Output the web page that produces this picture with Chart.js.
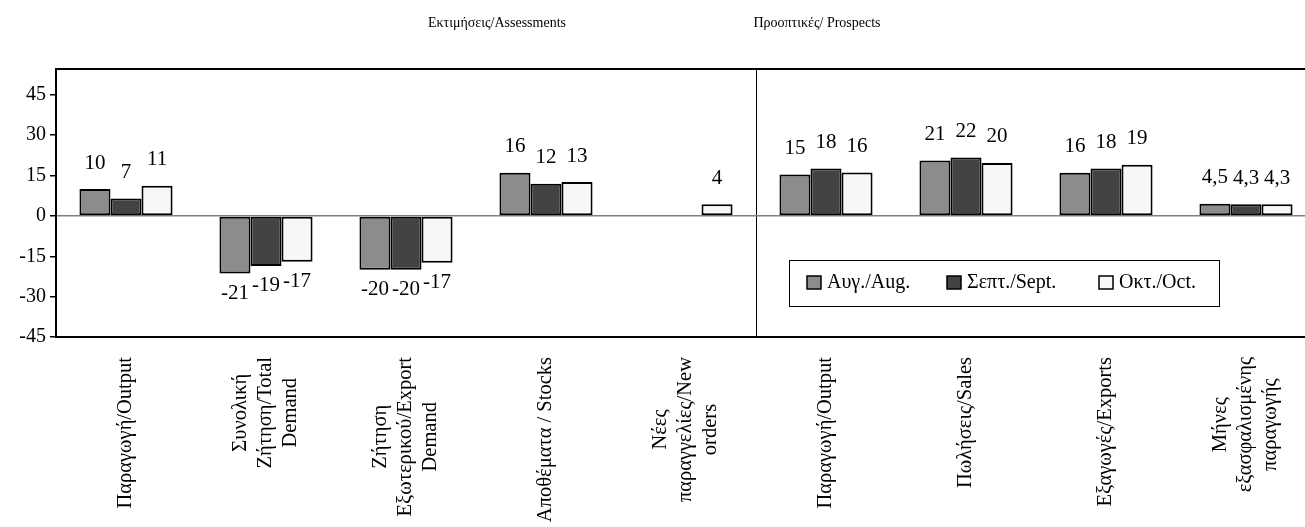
<!DOCTYPE html>
<html><head><meta charset="utf-8">
<script src="https://cdn.jsdelivr.net/npm/chart.js@4"></script>
<style>
html,body{margin:0;padding:0;background:#fff;overflow:hidden;width:1305px;height:527px;}
#wrap{position:relative;width:1305px;height:527px;overflow:hidden;background:#fff;}
canvas{position:absolute;left:0;top:0;}
.hdr{position:absolute;top:15px;transform:translateX(-50%);font-family:'Liberation Serif','Times New Roman',serif;font-size:14px;color:#000;white-space:nowrap;}
</style></head><body>
<div id="wrap">
<canvas id="c" width="1320" height="527" style="width:1320px;height:527px"></canvas>
<div class="hdr" id="h0" style="left:497px"></div>
<div class="hdr" id="h1" style="left:817px"></div>
</div>
<script>
const categories = [
  ['Παραγωγή/Output'],
  ['Συνολική','Ζήτηση/Total','Demand'],
  ['Ζήτηση','Εξωτερικού/Export','Demand'],
  ['Αποθέματα / Stocks'],
  ['Νέες','παραγγελίες/New','orders'],
  ['Παραγωγή/Output'],
  ['Πωλήσεις/Sales'],
  ['Εξαγωγές/Exports'],
  ['Μήνες','εξασφαλισμένης','παραγωγής']
];
const seriesNames = ['Αυγ./Aug.','Σεπτ./Sept.','Οκτ./Oct.'];
const augValues = [10, -21.4, -20, 16, null, 15.4, 20.6, 16, 4.5];
const sepValues = [6.5, -18.6, -20, 12, null, 17.6, 21.7, 17.6, 4.3];
const octValues = [11.2, -17, -17.4, 12.6, 4.3, 16.1, 19.7, 19, 4.3];
const labelDecimals = [0, 0, 0, 0, 0, 0, 0, 0, 1];
const yTicks = [-45, -30, -15, 0, 15, 30, 45];
const sectionTitles = ['Εκτιμήσεις/Assessments', 'Προοπτικές/ Prospects'];

document.getElementById('h0').textContent = sectionTitles[0];
document.getElementById('h1').textContent = sectionTitles[1];

const FONT = "'Liberation Serif', 'Times New Roman', serif";
Chart.defaults.font.family = FONT;
Chart.defaults.color = '#000';

const fills = ['#8c8c8c', '#434343', '#f7f7f7'];

function fmt(v, d) {
  return (d > 0 ? v.toFixed(d) : String(Math.round(v))).replace('.', ',');
}

const frame = {
  id: 'frame',
  afterDatasetsDraw(chart) {
    const {ctx, chartArea: a} = chart;
    ctx.save();
    ctx.strokeStyle = '#000';
    ctx.lineWidth = 2;
    ctx.strokeRect(a.left, a.top, a.right - a.left, a.bottom - a.top);
    ctx.restore();
  }
};

const valueLabels = {
  id: 'valueLabels',
  afterDatasetsDraw(chart) {
    const ctx = chart.ctx;
    ctx.save();
    ctx.font = '21px ' + FONT;
    ctx.fillStyle = '#000';
    ctx.textAlign = 'center';
    ctx.textBaseline = 'middle';
    chart.data.datasets.forEach((ds, di) => {
      const meta = chart.getDatasetMeta(di);
      meta.data.forEach((bar, i) => {
        const v = ds.data[i];
        if (v === null || v === undefined) return;
        const txt = fmt(v, labelDecimals[i]);
        const y = v >= 0 ? bar.y - 26 : bar.y + 20;
        ctx.fillText(txt, bar.x, y);
      });
    });
    ctx.restore();
  }
};

const catLabels = {
  id: 'catLabels',
  afterDraw(chart) {
    const ctx = chart.ctx;
    const xs = chart.scales.x;
    const top = chart.chartArea.bottom + 20;
    const lh = 25;
    ctx.save();
    ctx.font = '20.5px ' + FONT;
    ctx.fillStyle = '#000';
    ctx.textAlign = 'center';
    ctx.textBaseline = 'middle';
    categories.forEach((lines, i) => {
      const x = xs.getPixelForValue(i);
      const maxW = Math.max(...lines.map(l => ctx.measureText(l).width));
      const yc = top + maxW / 2;
      lines.forEach((l, j) => {
        const off = (j - (lines.length - 1) / 2) * lh;
        ctx.save();
        ctx.translate(x + off, yc);
        ctx.rotate(-Math.PI / 2);
        ctx.fillText(l, 0, 0);
        ctx.restore();
      });
    });
    ctx.restore();
  }
};

const legendBox = {
  id: 'legendBox',
  afterDraw(chart) {
    const ctx = chart.ctx;
    ctx.save();
    ctx.strokeStyle = '#000';
    ctx.lineWidth = 1;
    ctx.fillStyle = '#fff';
    ctx.fillRect(789.5, 260.5, 430, 46);
    ctx.strokeRect(789.5, 260.5, 430, 46);
    const sx = [807, 947, 1099];
    ctx.font = '20px ' + FONT;
    ctx.textBaseline = 'middle';
    ctx.textAlign = 'left';
    chart.data.datasets.forEach((ds, i) => {
      ctx.fillStyle = ds.backgroundColor;
      ctx.fillRect(sx[i], 276, 14, 13);
      ctx.lineWidth = 1.5;
      ctx.strokeRect(sx[i], 276, 14, 13);
      ctx.fillStyle = '#000';
      ctx.fillText(ds.label, sx[i] + 20, 283);
    });
    ctx.restore();
  }
};

new Chart(document.getElementById('c'), {
  type: 'bar',
  data: {
    labels: categories,
    datasets: [augValues, sepValues, octValues].map((d, i) => ({
      label: seriesNames[i],
      data: d,
      backgroundColor: fills[i],
      borderColor: '#000',
      borderWidth: 2,
      borderSkipped: false,
      barPercentage: 1,
      categoryPercentage: 0.665
    }))
  },
  options: {
    responsive: false,
    animation: false,
    devicePixelRatio: 1,
    layout: {padding: {top: 69, right: 4, left: 0, bottom: 0}},
    plugins: {legend: {display: false}, tooltip: {enabled: false}},
    scales: {
      x: {
        ticks: {display: false},
        border: {display: false},
        grid: {
          offset: true,
          drawTicks: false,
          lineWidth: 1,
          color: (c) => c.index === 5 ? '#000' : 'rgba(0,0,0,0)'
        },
        afterFit(s) { s.height = 190; }
      },
      y: {
        min: -45,
        max: 54.6,
        afterBuildTicks(s) { s.ticks = yTicks.map(v => ({value: v})); },
        ticks: {font: {size: 20}, padding: 4, color: '#000'},
        border: {display: false},
        grid: {
          drawOnChartArea: true,
          tickLength: 6,
          tickColor: '#000',
          lineWidth: 1.5,
          color: (c) => (c.tick && c.tick.value === 0) ? '#808080' : 'rgba(0,0,0,0)'
        },
        afterFit(s) { s.width = 56; }
      }
    }
  },
  plugins: [frame, valueLabels, catLabels, legendBox]
});
</script>
</body></html>
